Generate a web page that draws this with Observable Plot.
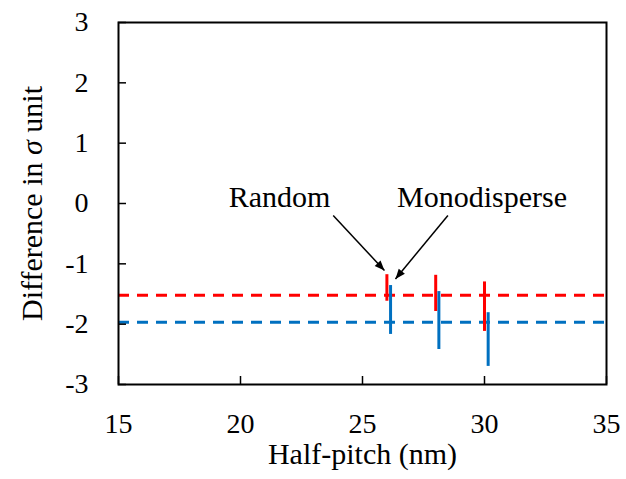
<!DOCTYPE html>
<html><head><meta charset="utf-8">
<script src="https://cdn.jsdelivr.net/npm/d3@7"></script>
<script src="https://cdn.jsdelivr.net/npm/@observablehq/plot@0.6"></script>
<style>body{margin:0;background:#fff}</style>
</head><body><div id="chart"></div>
<script>
// ---- data ----
const xTicks = [15, 20, 25, 30, 35];
const yTicks = [-3, -2, -1, 0, 1, 2, 3];

const randomPitch = [26.0, 28.0, 30.0];
const randomLow   = [-1.62, -1.79, -2.12];
const randomHigh  = [-1.18, -1.19, -1.30];
const randomMean  = -1.52;

const monoPitch = [26.15, 28.13, 30.15];
const monoLow   = [-2.17, -2.42, -2.70];
const monoHigh  = [-1.36, -1.46, -1.81];
const monoMean  = -1.97;

const seriesNames = ["Random", "Monodisperse"];
const labelX = [21.6, 29.9];
const labelY = [0.1, 0.1];
const arrowFromX = [23.8, 28.5];
const arrowFromY = [-0.2, -0.2];
const arrowToX = [25.9, 26.35];
const arrowToY = [-1.11, -1.25];

// ---- build tables ----
const RED = "#ff0000", BLUE = "#0070c0";
const random = randomPitch.map((x, i) => ({x, lo: randomLow[i], hi: randomHigh[i]}));
const mono = monoPitch.map((x, i) => ({x, lo: monoLow[i], hi: monoHigh[i]}));
const labels = seriesNames.map((t, i) => ({t, x: labelX[i], y: labelY[i]}));
const arrows = seriesNames.map((t, i) => ({x1: arrowFromX[i], y1: arrowFromY[i], x2: arrowToX[i], y2: arrowToY[i]}));

const chart = Plot.plot({
  width: 626, height: 479,
  marginLeft: 118, marginRight: 20, marginTop: 22, marginBottom: 95,
  style: {fontFamily: '"Liberation Serif", "Times New Roman", serif', fontSize: "28px", color: "#000", background: "#fff"},
  x: {domain: [15, 35]},
  y: {domain: [-3, 3]},
  marks: [
    Plot.ruleY([randomMean], {stroke: RED, strokeWidth: 3, strokeDasharray: "11,8"}),
    Plot.ruleY([monoMean], {stroke: BLUE, strokeWidth: 3, strokeDasharray: "11,8"}),
    Plot.ruleX(random, {x: "x", y1: "lo", y2: "hi", stroke: RED, strokeWidth: 3}),
    Plot.ruleX(mono, {x: "x", y1: "lo", y2: "hi", stroke: BLUE, strokeWidth: 3}),
    Plot.frame({stroke: "#000", strokeWidth: 2}),
    Plot.axisX({ticks: xTicks, tickSize: -8, tickPadding: 37, strokeWidth: 1.5, label: null, tickFormat: d => String(d)}),
    Plot.axisY({ticks: yTicks, tickSize: -8, tickPadding: 38, strokeWidth: 1.5, label: null, tickFormat: d => String(d)}),
    Plot.text(["Half-pitch (nm)"], {frameAnchor: "bottom", dy: 79, fontSize: 30, fill: "#000"}),
    Plot.text(["Difference in σ unit"], {frameAnchor: "left", textAnchor: "middle", dx: -86, rotate: -90, fontSize: 30, fill: "#000", className: "ylab"}),
    Plot.text(labels, {x: "x", y: "y", text: "t", fontSize: 30, fill: "#000"}),
    Plot.link(arrows, {x1: "x1", y1: "y1", x2: "x2", y2: "y2", stroke: "#000", strokeWidth: 1.5, markerEnd: "arrow", className: "pointer"})
  ]
});
document.getElementById("chart").appendChild(chart);

// italic sigma in the y label
const t = chart.querySelector("g.ylab text");
if (t) {
  t.textContent = "";
  const parts = [["Difference in ", false], ["σ", true], [" unit", false]];
  for (const [s, it] of parts) {
    const ts = document.createElementNS("http://www.w3.org/2000/svg", "tspan");
    ts.textContent = s;
    if (it) ts.setAttribute("font-style", "italic");
    t.appendChild(ts);
  }
}
// filled arrowheads
chart.querySelectorAll("marker").forEach(m => {
  m.setAttribute("viewBox", "-11 -5 12 10");
  m.setAttribute("markerWidth", 8);
  m.setAttribute("markerHeight", 6.67);
  m.setAttribute("fill", "#000");
  m.setAttribute("stroke", "none");
  const p = m.querySelector("path");
  if (p) p.setAttribute("d", "M-10,-4L0,0L-10,4Z");
});
</script>
</body></html>
